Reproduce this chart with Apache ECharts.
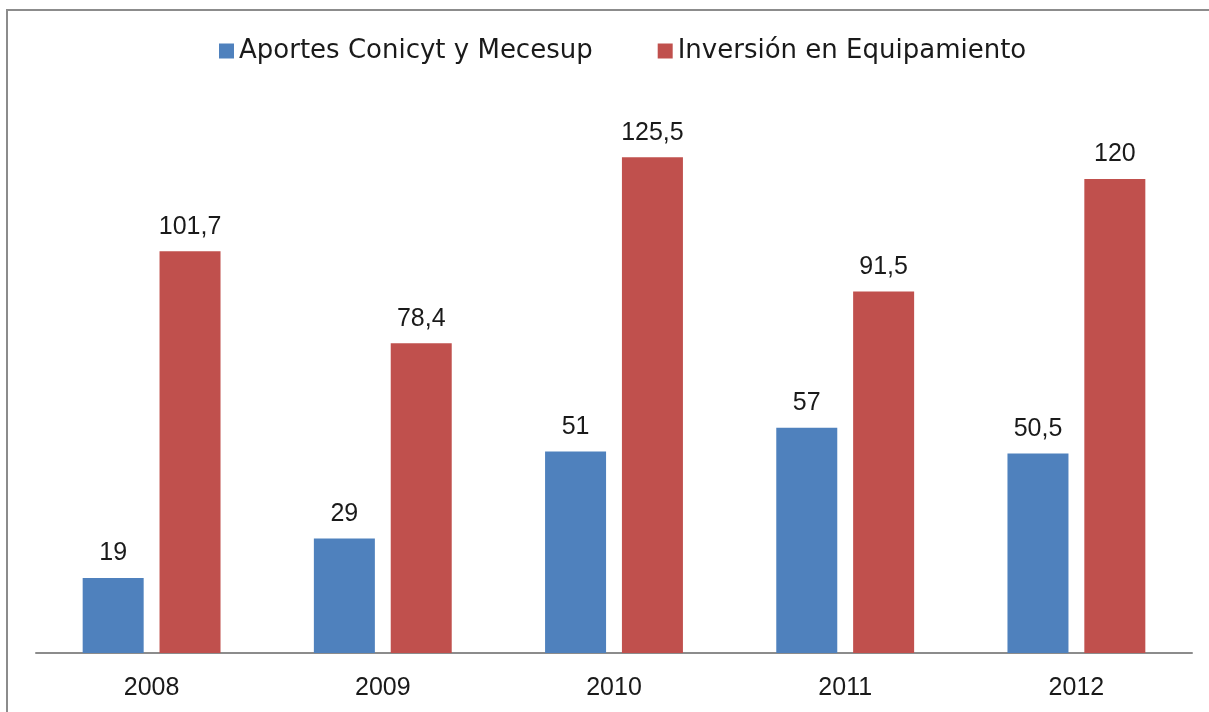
<!DOCTYPE html>
<html><head><meta charset="utf-8">
<script src="https://cdn.jsdelivr.net/npm/echarts@6/dist/echarts.min.js"></script>
<style>html,body{margin:0;padding:0;background:#fff}#c{width:1209px;height:712px}</style>
</head><body><div id="c"></div>
<script>
const categories = ['2008','2009','2010','2011','2012'];
const aportes = [19, 29, 51, 57, 50.5];
const inversion = [101.7, 78.4, 125.5, 91.5, 120];
const seriesNames = ['Aportes Conicyt y Mecesup', 'Inversión en Equipamiento'];

const legendFont = 'DejaVu Sans';
const font = 'Liberation Sans';
const fmt = p => String(p.value).replace('.', ',');
const labelStyle = {show: true, position: 'top', distance: 12, formatter: fmt, fontFamily: font, fontSize: 25, color: '#1a1a1a'};
const chart = echarts.init(document.getElementById('c'));
chart.setOption({
  animation: false,
  graphic: [{type:'rect', shape:{x:7,y:10,width:1220,height:720}, style:{fill:'none', stroke:'#8c8c8c', lineWidth:2}, silent:true}],
  legend: {
    top: 33, left: 214, itemWidth: 15, itemHeight: 15, itemGap: 65,
    textStyle: {fontFamily: legendFont, fontSize: 26, color: '#1a1a1a'},
    icon: 'rect'
  },
  grid: {left: 36, right: 17, top: 100, bottom: 59},
  xAxis: {
    type: 'category', data: categories,
    axisLine: {lineStyle: {color: '#8c8c8c', width: 2}},
    axisTick: {show: false},
    axisLabel: {fontFamily: font, fontSize: 25, color: '#1a1a1a', margin: 23}
  },
  yAxis: {type: 'value', min: 0, max: 140, show: false, splitLine: {show: false}},
  series: [
    {name: seriesNames[0], type: 'bar', data: aportes, barWidth: 61, barGap: '26%', barCategoryGap: '40%',
     itemStyle: {color: '#4f81bd'}, label: labelStyle},
    {name: seriesNames[1], type: 'bar', data: inversion, barWidth: 61,
     itemStyle: {color: '#c0504d'}, label: labelStyle}
  ]
});
</script></body></html>
